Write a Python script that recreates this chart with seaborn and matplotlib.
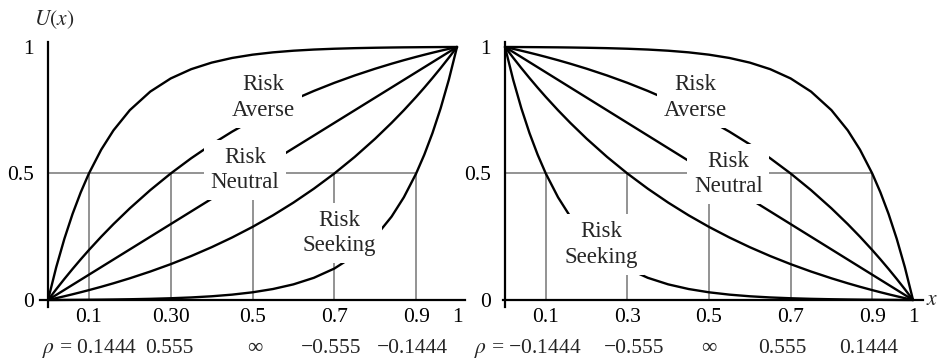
import matplotlib
matplotlib.use('Agg')
import matplotlib.pyplot as plt
import seaborn as sns
import pandas as pd

# ---------------- data ----------------
xs = [0, .02, .04, .06, .08, .1, .13, .16, .2, .25, .3, .35, .4, .45, .5, .55, .6,
      .65, .7, .75, .8, .84, .87, .9, .92, .94, .96, .98, 1]

# left panel (increasing utility)
left_rho_01444 = [0, .1294, .2421, .3403, .4257, .5002, .5941, .6705, .7504, .8237, .8757,
                  .9123, .9382, .9566, .9696, .9788, .9853, .9899, .9931, .9954, .9970,
                  .9980, .9986, .9990, .9993, .9995, .9997, .9999, 1]
left_rho_0555 = [0, .0424, .0833, .1227, .1608, .1975, .2501, .2999, .3623, .4343, .5001,
                 .5602, .6151, .6653, .7111, .7530, .7913, .8263, .8583, .8875, .9142,
                 .9339, .9478, .9609, .9693, .9774, .9852, .9927, 1]
left_rho_m0555 = [0, .0073, .0148, .0226, .0307, .0391, .0522, .0661, .0858, .1125, .1417,
                  .1737, .2087, .2470, .2889, .3347, .3849, .4399, .4999, .5657, .6377,
                  .7001, .7499, .8025, .8392, .8773, .9167, .9576, 1]
left_rho_m01444 = [0, .0001, .0003, .0005, .0007, .0010, .0014, .0020, .0030, .0046, .0069,
                   .0101, .0147, .0212, .0304, .0434, .0618, .0877, .1243, .1763, .2496,
                   .3295, .4059, .4998, .5743, .6597, .7579, .8706, 1]
neutral_x = [0, 1]
left_neutral_y = [0, 1]

# right panel (decreasing utility)
right_rho_01444 = [1, .9999, .9997, .9995, .9993, .9990, .9986, .9980, .9970, .9954, .9931,
                   .9899, .9853, .9788, .9696, .9566, .9382, .9123, .8757, .8237, .7504,
                   .6705, .5941, .5002, .4257, .3403, .2421, .1294, 0]
right_rho_0555 = [1, .9927, .9852, .9774, .9693, .9609, .9478, .9339, .9142, .8875, .8583,
                  .8263, .7913, .7530, .7111, .6653, .6151, .5602, .5001, .4343, .3623,
                  .2999, .2501, .1975, .1608, .1227, .0833, .0424, 0]
right_rho_m0555 = [1, .9576, .9167, .8773, .8392, .8025, .7499, .7001, .6377, .5657, .4999,
                   .4399, .3849, .3347, .2889, .2470, .2087, .1737, .1417, .1125, .0858,
                   .0661, .0522, .0391, .0307, .0226, .0148, .0073, 0]
right_rho_m01444 = [1, .8706, .7579, .6597, .5743, .4998, .4059, .3295, .2496, .1763, .1243,
                    .0877, .0618, .0434, .0304, .0212, .0147, .0101, .0069, .0046, .0030,
                    .0020, .0014, .0010, .0007, .0005, .0003, .0001, 0]
right_neutral_y = [1, 0]

ref_x = [0.1, 0.3, 0.5, 0.7, 0.9]
ref_u = 0.5

tick_x = [0.1, 0.3, 0.5, 0.7, 0.9, 1.0]
left_tick_labels = ['0.1', '0.30', '0.5', '0.7', '0.9', '1']
right_tick_labels = ['0.1', '0.3', '0.5', '0.7', '0.9', '1']
left_rho_labels = ['$\\rho$ = 0.1444', '0.555', '\u221e', '\u22120.555', '\u22120.1444']
right_rho_labels = ['$\\rho$ = \u22120.1444', '\u22120.555', '\u221e', '0.555', '0.1444']
y_ticks = [0, 0.5, 1]
y_tick_labels = ['0', '0.5', '1']

# ---------------- style ----------------
sns.set_theme(style='white')
plt.rcParams['font.family'] = ['Liberation Serif', 'DejaVu Serif']
plt.rcParams['mathtext.fontset'] = 'stix'

FS = 15.5
FS_LAB = 16.5
GRAY = '#8a8a8a'
LW = 1.7

fig = plt.figure(figsize=(9.41, 3.59), dpi=100)
axL = fig.add_axes([0.0380, 0.1432, 0.4607, 0.740])
axR = fig.add_axes([0.5280, 0.1432, 0.4683, 0.740])

box = dict(boxstyle='square,pad=0.3', fc='white', ec='none')


def setup(ax, xlim, bbounds, ticklabels):
    ax.set_xlim(*xlim)
    ax.set_ylim(-0.03, 1.02)
    for s in ['top', 'right']:
        ax.spines[s].set_visible(False)
    ax.spines['left'].set_position(('data', 0))
    ax.spines['bottom'].set_position(('data', 0))
    ax.spines['left'].set_bounds(-0.028, 1.02)
    ax.spines['bottom'].set_bounds(*bbounds)
    for s in ['left', 'bottom']:
        ax.spines[s].set_color('black')
        ax.spines[s].set_linewidth(1.6)
        ax.spines[s].set_zorder(6)
    ax.set_xticks(tick_x)
    ax.set_xticklabels(ticklabels)
    ax.set_yticks(y_ticks)
    ax.set_yticklabels(y_tick_labels)
    ax.tick_params(axis='x', length=0, pad=6, labelsize=FS, colors='black')
    ax.tick_params(axis='y', length=0, pad=10, labelsize=FS, colors='black')
    ax.set_xlabel('')
    ax.set_ylabel('')
    ax.patch.set_alpha(0)


def draw(ax, curves, neutral_y, hl_x0, hl_x1):
    ax.hlines(ref_u, hl_x0, hl_x1, colors=GRAY, lw=1.3, zorder=1)
    ax.vlines(ref_x, 0, ref_u, colors=GRAY, lw=1.3, zorder=1)
    for ys in curves:
        sns.lineplot(x=xs, y=ys, ax=ax, color='black', lw=LW, sort=False,
                     estimator=None, zorder=3)
    sns.lineplot(x=neutral_x, y=neutral_y, ax=ax, color='black', lw=LW, sort=False,
                 estimator=None, zorder=3)


# left panel
draw(axL, [left_rho_01444, left_rho_0555, left_rho_m0555, left_rho_m01444],
     left_neutral_y, 0, 0.9)
setup(axL, (-0.03, 1.03), (-0.02, 1.02), left_tick_labels)

# right panel
draw(axR, [right_rho_01444, right_rho_0555, right_rho_m0555, right_rho_m01444],
     right_neutral_y, 0, 0.9)
setup(axR, (-0.02, 1.06), (-0.005, 1.025), right_tick_labels)

# region labels
lab_kw = dict(ha='center', va='center', fontsize=FS_LAB, linespacing=1.3, bbox=box, zorder=5)
axL.text(0.526, 0.80, 'Risk\nAverse', **lab_kw)
axL.text(0.482, 0.514, 'Risk\nNeutral', **lab_kw)
axL.text(0.711, 0.265, 'Risk\nSeeking', **lab_kw)
axR.text(0.466, 0.80, 'Risk\nAverse', **lab_kw)
axR.text(0.547, 0.498, 'Risk\nNeutral', **lab_kw)
axR.text(0.235, 0.22, 'Risk\nSeeking', **lab_kw)

# rho row
left_rho_pos = [0.103, 0.296, 0.506, 0.692, 0.89]
right_rho_pos = [0.055, 0.316, 0.5, 0.68, 0.89]
for px, t in zip(left_rho_pos, left_rho_labels):
    axL.text(px, -0.19, t, ha='center', va='center', fontsize=FS, clip_on=False)
for px, t in zip(right_rho_pos, right_rho_labels):
    axR.text(px, -0.19, t, ha='center', va='center', fontsize=FS, clip_on=False)

# axis titles
axL.text(0.015, 1.107, '$U(x)$', ha='center', va='center', fontsize=FS, clip_on=False)
axR.text(1.047, 0.0, '$x$', ha='center', va='center', fontsize=FS, clip_on=False)

fig.savefig('out.png', dpi=100)
